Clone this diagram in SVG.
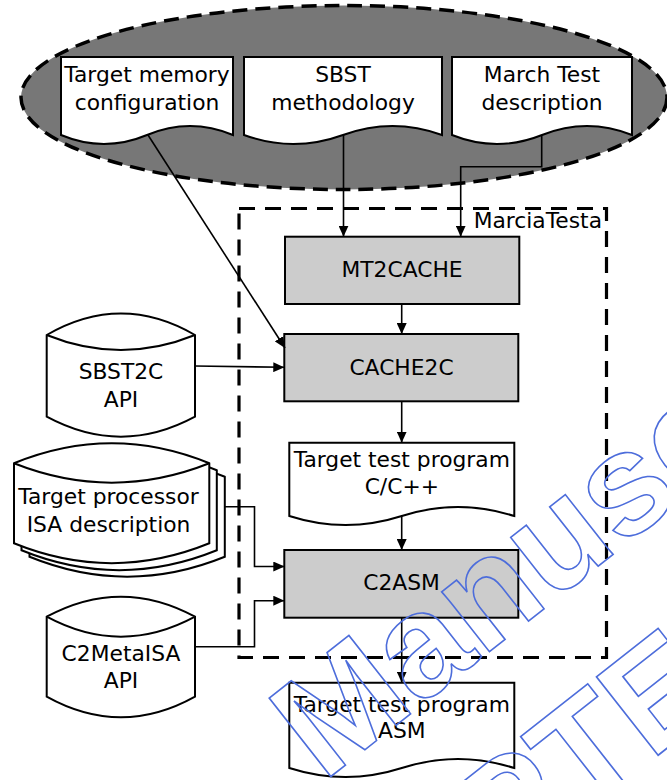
<svg xmlns="http://www.w3.org/2000/svg" width="667" height="780" viewBox="0 0 667 780">
<defs>
<style>
text{font-family:"DejaVu Sans","Liberation Sans",sans-serif;font-size:21.8px;fill:#000;text-anchor:middle}
.doc{fill:#fff;stroke:#000;stroke-width:2}
.proc{fill:#cccccc;stroke:#000;stroke-width:2}
.store{fill:#fff;stroke:#000;stroke-width:2}
.wire{fill:none;stroke:#000;stroke-width:1.6}
.wm{font-family:"Liberation Sans",Arial,sans-serif;font-weight:bold;font-size:145px;fill:none;stroke:#4d6ddb;stroke-width:1.6;text-anchor:start}
</style>
<marker id="ah" markerUnits="userSpaceOnUse" markerWidth="11" markerHeight="10" refX="11" refY="5" orient="auto">
<path d="M0,0 L11,5 L0,10 Z" fill="#000"/>
</marker>
</defs>
<rect width="667" height="780" fill="#fff"/>

<g id="inputs-group">
<ellipse cx="344" cy="97.5" rx="323" ry="92" fill="#777777" stroke="#000" stroke-width="3.5" stroke-dasharray="15 8"/>
</g>

<g id="marciatesta">
<rect x="239" y="208.5" width="367.5" height="449" fill="none" stroke="#000" stroke-width="3.2" stroke-dasharray="16 10"/>
<text x="602" y="228" style="text-anchor:end">MarciaTesta</text>
</g>

<g id="doc-memory">
<path class="doc" d="M61,57 H233 V135 Q190,117 147,135 Q104,153 61,135 Z"/>
<text x="147" y="82">Target memory</text>
<text x="147" y="110">configuration</text>
</g>
<g id="doc-sbst">
<path class="doc" d="M244,57 H442 V135 Q392.5,117 343,135 Q293.5,153 244,135 Z"/>
<text x="343" y="82">SBST</text>
<text x="343" y="110">methodology</text>
</g>
<g id="doc-march">
<path class="doc" d="M452,57 H632 V135 Q587,117 542,135 Q497,153 452,135 Z"/>
<text x="542" y="82">March Test</text>
<text x="542" y="110">description</text>
</g>

<g id="mt2cache">
<rect class="proc" x="285" y="236.7" width="234.3" height="67.3"/>
<text x="402" y="277">MT2CACHE</text>
</g>
<g id="cache2c">
<rect class="proc" x="284.3" y="334" width="234" height="67.3"/>
<text x="401.5" y="374.5">CACHE2C</text>
</g>
<g id="doc-testc">
<path class="doc" d="M289.3,442.7 H514.3 V516 Q458,498 401.8,516 Q345.6,534 289.3,516 Z"/>
<text x="401.8" y="466.7">Target test program</text>
<text x="401.8" y="494">C/C++</text>
</g>
<g id="c2asm">
<rect class="proc" x="284.3" y="550" width="234" height="67.7"/>
<text x="401.5" y="590">C2ASM</text>
</g>
<g id="doc-testasm">
<path class="doc" d="M289.3,682.7 H514.3 V768 Q458,750 401.8,768 Q345.6,786 289.3,768 Z"/>
<text x="401.8" y="711.7">Target test program</text>
<text x="401.8" y="738.3">ASM</text>
</g>

<g id="sbst2c-api">
<path class="store" d="M46.7,335 Q121,292 195,335 V416.7 Q121,456.7 46.7,416.7 Z"/>
<path class="store" fill="none" d="M46.7,335 Q121,365 195,335"/>
<text x="121" y="379">SBST2C</text>
<text x="121" y="406.7">API</text>
</g>

<g id="isa-description">
<path class="store" transform="translate(15.5,13.5)" d="M14,463.3 Q111.7,423.3 209.3,463.3 V543.3 Q111.7,583 14,543.3 Z"/>
<path class="store" transform="translate(7.5,7)" d="M14,463.3 Q111.7,423.3 209.3,463.3 V543.3 Q111.7,583 14,543.3 Z"/>
<path class="store" d="M14,463.3 Q111.7,423.3 209.3,463.3 V543.3 Q111.7,583 14,543.3 Z"/>
<path class="store" fill="none" d="M14,463.3 Q111.7,502 209.3,463.3"/>
<text x="108.5" y="504">Target processor</text>
<text x="108.5" y="532.3">ISA description</text>
</g>

<g id="c2metaisa-api">
<path class="store" d="M46.7,616.7 Q121,576.7 195,616.7 V696.7 Q121,738 46.7,696.7 Z"/>
<path class="store" fill="none" d="M46.7,616.7 Q121,656.7 195,616.7"/>
<text x="121" y="660.7">C2MetaISA</text>
<text x="121" y="688.3">API</text>
</g>

<g id="connectors">
<path class="wire" marker-end="url(#ah)" d="M148,135 L285,348"/>
<path class="wire" marker-end="url(#ah)" d="M343.5,135 V236.7"/>
<path class="wire" marker-end="url(#ah)" d="M541.7,135 V166.7 H460.7 V236.7"/>
<path class="wire" marker-end="url(#ah)" d="M401.7,304 V334"/>
<path class="wire" marker-end="url(#ah)" d="M195,366 L284.3,367.3"/>
<path class="wire" marker-end="url(#ah)" d="M401.7,401.3 V442.7"/>
<path class="wire" marker-end="url(#ah)" d="M401.7,516 V550"/>
<path class="wire" marker-end="url(#ah)" d="M225,506.7 H254.5 V566.5 H284.3"/>
<path class="wire" marker-end="url(#ah)" d="M195,646.7 H254.5 V600.7 H284.3"/>
<path class="wire" marker-end="url(#ah)" d="M401.7,617.7 V682.7"/>
</g>

<g id="watermark">
<text class="wm" transform="translate(323.2,782.5) rotate(-38.2)">Manuscript</text>
<text class="wm" transform="translate(182,1129.8) rotate(-38.2)">ACCEPTED</text>
</g>
</svg>
